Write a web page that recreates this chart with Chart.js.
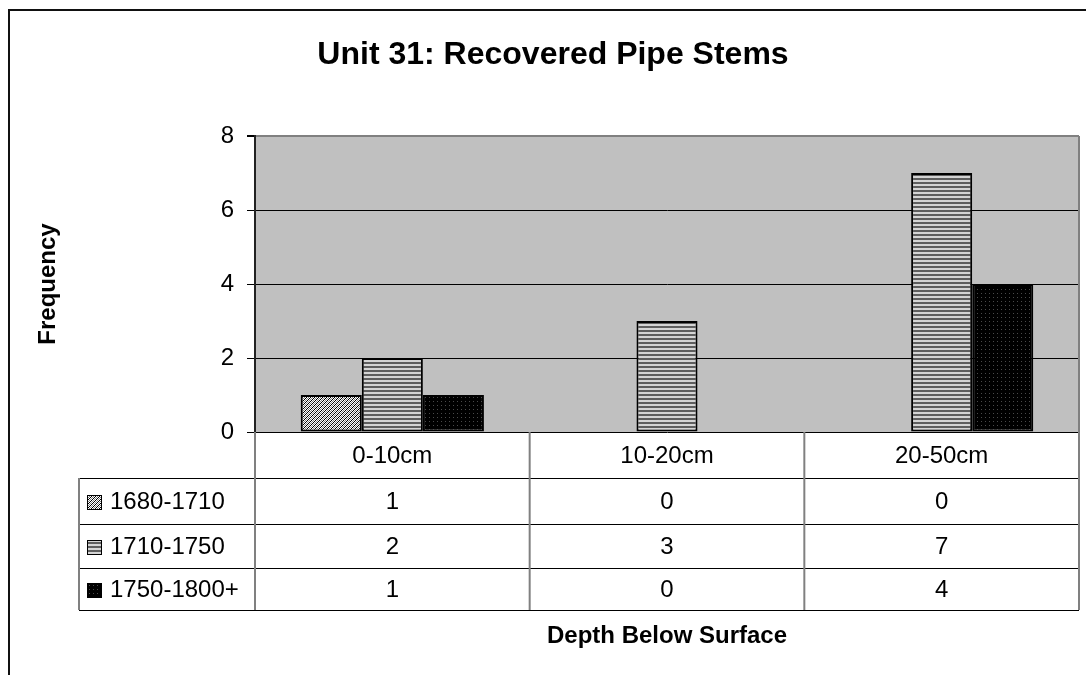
<!DOCTYPE html>
<html>
<head>
<meta charset="utf-8">
<script src="https://cdn.jsdelivr.net/npm/chart.js@4/dist/chart.umd.min.js"></script>
<style>
    html, body { margin: 0; padding: 0; background: #fff; }
    #wrap { width: 1086px; height: 675px; }
</style>
</head>
<body>
<div id="wrap"><canvas id="pipeStems" width="1086" height="675"></canvas></div>
<script>
// Chart data
const categories = ['0-10cm', '10-20cm', '20-50cm'];
const seriesNames = ['1680-1710', '1710-1750', '1750-1800+'];
const stems1680 = [1, 0, 0];
const stems1710 = [2, 3, 7];
const stems1750 = [1, 0, 4];
const yMin = 0;
const yMax = 8;
const yStep = 2;

const FONT = "'Liberation Sans', Arial, sans-serif";
// table row rules, measured down from the zero line
const ROW_LINES = [46, 92, 136, 178];
const TABLE_LEFT = 79;

// Build a small repeating tile for the bar fills
const makePattern = (size, draw) => {
    const tile = document.createElement('canvas');
    tile.width = size;
    tile.height = size;
    const g = tile.getContext('2d');
    draw(g);
    return g.createPattern(tile, 'repeat');
}

const hatchFill = makePattern(4, g => {
    g.fillStyle = '#ffffff';
    g.fillRect(0, 0, 4, 4);
    g.fillStyle = '#000000';
    for (let i = 0; i < 4; i++) {
        g.fillRect(3 - i, i, 1, 1);
    }
    g.fillStyle = '#808080';
    for (let i = 0; i < 4; i++) {
        g.fillRect((5 - i) % 4, i, 1, 1);
    }
});

const stripeFill = makePattern(4, g => {
    g.fillStyle = '#d4d4d4';
    g.fillRect(0, 0, 4, 2);
    g.fillStyle = '#5e5e5e';
    g.fillRect(0, 2, 4, 2);
});

const dotFill = makePattern(4, g => {
    g.fillStyle = '#000000';
    g.fillRect(0, 0, 4, 4);
    g.fillStyle = '#4a4a4a';
    g.fillRect(1, 1, 1, 1);
});

const fills = [hatchFill, stripeFill, dotFill];
const seriesData = [stems1680, stems1710, stems1750];

// Grey plot area and outer frame
const frame = {
    id: 'frame',
    beforeDraw(chart) {
        const {ctx, chartArea: {left, top, right, bottom}} = chart;
        ctx.save();
        ctx.fillStyle = '#c0c0c0';
        ctx.fillRect(left, top, right - left, bottom - top);
        ctx.restore();
    },
    afterDraw(chart) {
        const {ctx, chartArea: {top, right, bottom}} = chart;
        ctx.save();
        // plot area right border
        ctx.strokeStyle = '#808080';
        ctx.lineWidth = 2;
        ctx.beginPath();
        ctx.moveTo(right, top);
        ctx.lineTo(right, bottom);
        ctx.stroke();
        // outer frame (top and left)
        ctx.fillStyle = '#111111';
        ctx.fillRect(8, 9, chart.width - 8, 2);
        ctx.fillRect(8, 9, 2, chart.height - 9);
        ctx.restore();
    }
}

// Data table under the x axis
const dataTable = {
    id: 'dataTable',
    afterDraw(chart) {
        const {ctx, chartArea: {left, right, bottom}, scales: {x}} = chart;
        const tableBottom = bottom + ROW_LINES[ROW_LINES.length - 1];
        ctx.save();

        // horizontal rules
        ctx.strokeStyle = '#000000';
        ctx.lineWidth = 1;
        ROW_LINES.forEach(off => {
            const y = Math.round(bottom + off) + 0.5;
            ctx.beginPath();
            ctx.moveTo(TABLE_LEFT, y);
            ctx.lineTo(right, y);
            ctx.stroke();
        });

        // vertical rules
        ctx.strokeStyle = '#808080';
        ctx.lineWidth = 2;
        const cols = [left];
        for (let j = 0; j < categories.length - 1; j++) {
            cols.push((x.getPixelForTick(j) + x.getPixelForTick(j + 1)) / 2);
        }
        cols.push(right);
        cols.forEach(cx => {
            ctx.beginPath();
            ctx.moveTo(cx, bottom);
            ctx.lineTo(cx, tableBottom);
            ctx.stroke();
        });
        ctx.beginPath();
        ctx.moveTo(TABLE_LEFT, bottom + ROW_LINES[0]);
        ctx.lineTo(TABLE_LEFT, tableBottom);
        ctx.stroke();

        // values and row legend
        ctx.font = `24px ${FONT}`;
        ctx.textBaseline = 'middle';
        seriesData.forEach((values, i) => {
            const y = bottom + (ROW_LINES[i] + ROW_LINES[i + 1]) / 2 + 1;
            ctx.fillStyle = '#000000';
            ctx.textAlign = 'center';
            values.forEach((v, j) => {
                ctx.fillText(String(v), x.getPixelForTick(j), y);
            });
            // swatch
            const sy = Math.round(y - 7);
            ctx.fillStyle = fills[i];
            ctx.fillRect(87, sy, 15, 15);
            ctx.strokeStyle = '#000000';
            ctx.lineWidth = 1;
            ctx.strokeRect(87.5, sy + 0.5, 14, 14);
            ctx.fillStyle = '#000000';
            ctx.textAlign = 'left';
            ctx.fillText(seriesNames[i], 110, y);
        });
        ctx.restore();
    }
}

const chartCanvas = document.getElementById('pipeStems');

new Chart(chartCanvas, {
    type: 'bar',
    data: {
        labels: categories,
        datasets: seriesNames.map((name, i) => ({
            label: name,
            data: seriesData[i],
            backgroundColor: fills[i],
            borderColor: '#000000',
            borderWidth: 2,
            borderSkipped: false,
            categoryPercentage: 0.667,
            barPercentage: 1
        }))
    },
    options: {
        responsive: false,
        animation: false,
        devicePixelRatio: 1,
        layout: {
            padding: { left: 27, right: 7, top: 0, bottom: 0 }
        },
        plugins: {
            legend: { display: false },
            tooltip: { enabled: false },
            title: {
                display: true,
                text: 'Unit 31: Recovered Pipe Stems',
                color: '#000000',
                font: { family: FONT, size: 32, weight: 'bold' },
                padding: { top: 35.8, bottom: 61.8 }
            }
        },
        scales: {
            x: {
                grid: { display: false },
                border: { display: false },
                ticks: {
                    color: '#000000',
                    font: { family: FONT, size: 24 },
                    padding: 2,
                    maxRotation: 0
                },
                title: {
                    display: true,
                    text: 'Depth Below Surface',
                    color: '#000000',
                    font: { family: FONT, size: 24, weight: 'bold' },
                    padding: { top: 0, bottom: 24.6 }
                },
                afterFit: scale => { scale.height = 243; }
            },
            y: {
                min: yMin,
                max: yMax,
                ticks: {
                    stepSize: yStep,
                    color: '#000000',
                    font: { family: FONT, size: 24 },
                    padding: 13
                },
                grid: {
                    color: c => c.tick && c.tick.value === yMax ? '#808080' : '#000000',
                    lineWidth: c => c.tick && c.tick.value === yMax ? 2 : 1,
                    tickColor: '#000000',
                    tickLength: 8
                },
                border: { display: true, color: '#222222', width: 2 },
                title: {
                    display: true,
                    text: 'Frequency',
                    color: '#000000',
                    font: { family: FONT, size: 24, weight: 'bold' },
                    padding: { top: 6.6, bottom: 0 }
                },
                afterFit: scale => { scale.width = 228; }
            }
        }
    },
    plugins: [frame, dataTable]
});
</script>
</body>
</html>
